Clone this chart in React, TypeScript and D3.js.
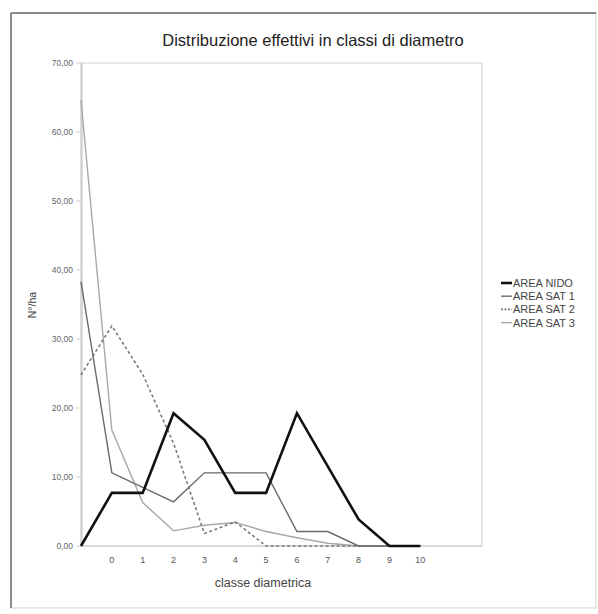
import React from "react";
import * as d3 from "d3";

// Category labels of the diameter classes (first and trailing slots are blank)
const categories: string[] = ["", "0", "1", "2", "3", "4", "5", "6", "7", "8", "9", "10", "", ""];

// Stems per hectare for each class, one array per survey area
const areaNido: number[] = [0, 7.7, 7.7, 19.25, 15.4, 7.7, 7.7, 19.25, 11.55, 3.85, 0, 0];
const areaSat1: number[] = [38.3, 10.6, 8.5, 6.4, 10.6, 10.6, 10.6, 2.1, 2.1, 0, 0, 0];
const areaSat2: number[] = [24.8, 31.9, 24.9, 14.9, 1.8, 3.5, 0, 0, 0, 0, 0, 0];
const areaSat3: number[] = [64.6, 16.8, 6.3, 2.2, 3.0, 3.4, 2.1, 1.2, 0.4, 0, 0, 0];

const seriesNames: string[] = ["AREA NIDO", "AREA SAT 1", "AREA SAT 2", "AREA SAT 3"];
const yTicks: number[] = [0, 10, 20, 30, 40, 50, 60, 70];

const W = 598;
const H = 614;
const plot = { left: 81, right: 482, top: 63, bottom: 546 };
const FONT = "'Liberation Sans', Arial, sans-serif";

type Style = { color: string; width: number; dash?: string };
const styles: Style[] = [
  { color: "#111111", width: 2.6 },
  { color: "#6a6a6a", width: 1.4 },
  { color: "#7a7a7a", width: 1.6, dash: "3,2.5" },
  { color: "#a8a8a8", width: 1.4 },
];

export default function App() {
  const x = d3
    .scalePoint<number>()
    .domain(d3.range(categories.length))
    .range([plot.left, plot.right]);
  const y = d3.scaleLinear().domain([0, 70]).range([plot.bottom, plot.top]);

  const line = d3
    .line<number>()
    .x((_, i) => x(i) as number)
    .y((v) => y(v));

  const series = [areaNido, areaSat1, areaSat2, areaSat3];
  const drawOrder = [3, 2, 1, 0];
  const fmt = (v: number) => v.toFixed(2).replace(".", ",");

  const legendX = 501;
  const legendY0 = 283;
  const legendStep = 13.2;

  return (
    <svg
      width={W}
      height={H}
      style={{ position: "absolute", left: 0, top: 0, background: "#ffffff" }}
    >
      {/* chart frame */}
      <rect x={11} y={13} width={585} height={595} fill="#ffffff" stroke="#e2e2e2" strokeWidth={1.5} />
      <line x1={11} y1={13} x2={596} y2={13} stroke="#8a8a8a" strokeWidth={2} />
      <line x1={11} y1={13} x2={11} y2={608} stroke="#8a8a8a" strokeWidth={2} />

      {/* title */}
      <text x={313} y={46} textAnchor="middle" fontFamily={FONT} fontSize={16.5} fill="#222">
        Distribuzione effettivi in classi di diametro
      </text>

      {/* plot area border */}
      <line x1={plot.left} y1={plot.top} x2={plot.right} y2={plot.top} stroke="#cfcfcf" strokeWidth={1.2} />
      <line x1={plot.right} y1={plot.top} x2={plot.right} y2={plot.bottom} stroke="#d8d8d8" strokeWidth={1.2} />

      {/* y axis */}
      <line x1={plot.left + 0.5} y1={plot.top} x2={plot.left + 0.5} y2={plot.bottom} stroke="#d2d2d2" strokeWidth={2.5} />
      {yTicks.map((t) => (
        <g key={t}>
          <line x1={plot.left - 5} x2={plot.left} y1={y(t)} y2={y(t)} stroke="#cccccc" strokeWidth={1} />
          <text
            x={plot.left - 8}
            y={y(t) + 3}
            textAnchor="end"
            fontFamily={FONT}
            fontSize={8.5}
            fill="#666"
          >
            {fmt(t)}
          </text>
        </g>
      ))}

      {/* x axis */}
      <line x1={plot.left} y1={plot.bottom} x2={plot.right} y2={plot.bottom} stroke="#cccccc" strokeWidth={1.5} />
      {categories.map((c, i) => (
        <text
          key={i}
          x={x(i) as number}
          y={plot.bottom + 17}
          textAnchor="middle"
          fontFamily={FONT}
          fontSize={9}
          fill="#555"
        >
          {c}
        </text>
      ))}

      {/* axis titles */}
      <text x={263} y={587} textAnchor="middle" fontFamily={FONT} fontSize={12.5} fill="#444">
        classe diametrica
      </text>
      <text
        transform={`translate(36,305) rotate(-90)`}
        textAnchor="middle"
        fontFamily={FONT}
        fontSize={10.5}
        fill="#444"
      >
        N°/ha
      </text>

      {/* series lines */}
      {drawOrder.map((k) => (
        <path
          key={k}
          d={line(series[k]) || ""}
          fill="none"
          stroke={styles[k].color}
          strokeWidth={styles[k].width}
          strokeDasharray={styles[k].dash}
          strokeLinejoin="miter"
        />
      ))}

      {/* legend */}
      {seriesNames.map((name, k) => {
        const ly = legendY0 + k * legendStep;
        return (
          <g key={name}>
            <line
              x1={legendX}
              x2={legendX + 11}
              y1={ly}
              y2={ly}
              stroke={styles[k].color}
              strokeWidth={styles[k].width}
              strokeDasharray={styles[k].dash ? "2,1.5" : undefined}
            />
            <text x={legendX + 12} y={ly + 4} fontFamily={FONT} fontSize={11} fill="#444">
              {name}
            </text>
          </g>
        );
      })}
    </svg>
  );
}
